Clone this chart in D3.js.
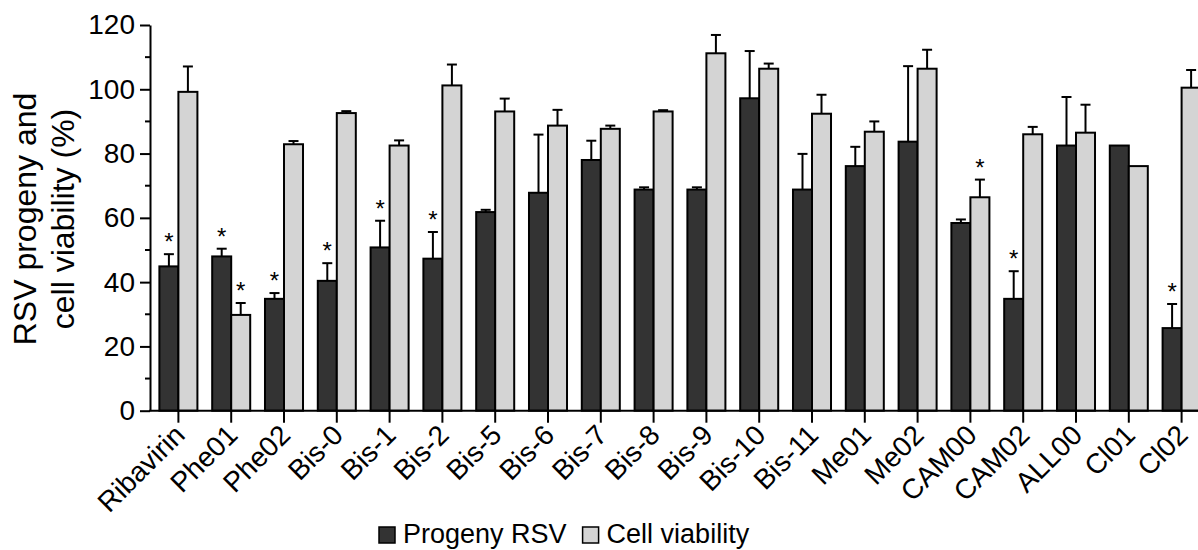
<!DOCTYPE html>
<html>
<head>
<meta charset="utf-8">
<script src="https://cdn.jsdelivr.net/npm/d3@7"></script>
<style>
  body { margin: 0; background: #fff; }
  text { font-family: "Liberation Sans", Arial, sans-serif; fill: #000; }
</style>
</head>
<body>
<svg id="chart" width="1198" height="550"></svg>
<script>
// compounds on the x axis
const compounds = ["Ribavirin", "Phe01", "Phe02", "Bis-0", "Bis-1", "Bis-2", "Bis-5", "Bis-6", "Bis-7", "Bis-8",
  "Bis-9", "Bis-10", "Bis-11", "Me01", "Me02", "CAM00", "CAM02", "ALL00", "Cl01", "Cl02"];

// progeny RSV (%) and its error bars
const progeny = [44.9, 48.0, 34.8, 40.4, 50.8, 47.3, 61.8, 67.8, 78.0, 68.8,
  68.8, 97.2, 68.8, 76.1, 83.7, 58.4, 34.8, 82.5, 82.5, 25.7];
const progenyErr = [3.8, 2.4, 1.8, 5.5, 8.3, 8.3, 0.7, 18.1, 6.0, 0.7,
  0.7, 14.7, 11.1, 6.0, 23.5, 1.1, 8.6, 15.1, 0, 7.5];

// cell viability (%) and its error bars
const viability = [99.2, 29.8, 82.9, 92.6, 82.5, 101.2, 93.1, 88.7, 87.7, 93.1,
  111.2, 106.4, 92.4, 86.8, 106.4, 66.4, 86.0, 86.5, 76.1, 100.5];
const viabilityErr = [7.9, 3.7, 1.0, 0.6, 1.6, 6.5, 4.0, 4.9, 1.0, 0.4,
  5.7, 1.6, 5.9, 3.2, 5.9, 5.5, 2.3, 8.7, 0, 5.5];

// significance stars
const progenySig = ["Ribavirin", "Phe01", "Phe02", "Bis-0", "Bis-1", "Bis-2", "CAM02", "Cl02"];
const viabilitySig = ["Phe01", "CAM00"];

const yTicks = [0, 20, 40, 60, 80, 100, 120];
const yMinor = [10, 30, 50, 70, 90, 110];

const series = [
  { key: "progeny", label: "Progeny RSV", values: progeny, err: progenyErr, sig: progenySig, fill: "#333333" },
  { key: "viability", label: "Cell viability", values: viability, err: viabilityErr, sig: viabilitySig, fill: "#d4d4d4" }
];

const svg = d3.select("#chart");

const x = d3.scaleBand()
  .domain(compounds)
  .range([152, 1208])
  .paddingInner(0.28)
  .paddingOuter(0.14);

const xs = d3.scaleBand()
  .domain(series.map(s => s.key))
  .range([0, x.bandwidth()]);

const y = d3.scaleLinear().domain([0, 120]).range([410.7, 25]);

//bars, error bars and stars for each series
series.forEach(s => {
  const rows = compounds.map((c, i) => ({ c, v: s.values[i], e: s.err[i], sig: s.sig.includes(c) }));
  const g = svg.append("g");
  const bx = d => x(d.c) + xs(s.key);
  const bw = xs.bandwidth();

  g.selectAll("line.err")
    .data(rows.filter(d => d.e > 0))
    .join("line")
    .attr("x1", d => bx(d) + bw / 2)
    .attr("x2", d => bx(d) + bw / 2)
    .attr("y1", d => y(d.v))
    .attr("y2", d => y(d.v + d.e))
    .attr("stroke", "#000")
    .attr("stroke-width", 2);

  g.selectAll("line.cap")
    .data(rows.filter(d => d.e > 0))
    .join("line")
    .attr("x1", d => bx(d) + bw / 2 - 5)
    .attr("x2", d => bx(d) + bw / 2 + 5)
    .attr("y1", d => y(d.v + d.e))
    .attr("y2", d => y(d.v + d.e))
    .attr("stroke", "#000")
    .attr("stroke-width", 2);

  g.selectAll("rect")
    .data(rows)
    .join("rect")
    .attr("x", bx)
    .attr("y", d => y(d.v))
    .attr("width", bw)
    .attr("height", d => y(0) - y(d.v))
    .attr("fill", s.fill)
    .attr("stroke", "#000")
    .attr("stroke-width", 2);

  g.selectAll("text")
    .data(rows.filter(d => d.sig))
    .join("text")
    .attr("x", d => bx(d) + bw / 2)
    .attr("y", d => y(d.v + d.e) - 4)
    .attr("text-anchor", "middle")
    .attr("font-size", 24)
    .text("*");
});

// y axis
const yAxis = svg.append("g").attr("transform", "translate(150,0)");
yAxis.call(d3.axisLeft(y).tickValues(yTicks).tickSize(10).tickPadding(5).tickSizeOuter(0));
yAxis.selectAll(".tick line").attr("stroke-width", 2);
yAxis.selectAll(".tick text").attr("font-size", 28).attr("font-family", "Liberation Sans, Arial, sans-serif");
yAxis.select(".domain").attr("stroke-width", 2);
yAxis.selectAll("line.minor")
  .data(yMinor)
  .join("line")
  .attr("class", "minor")
  .attr("x1", -5).attr("x2", 0)
  .attr("y1", d => y(d)).attr("y2", d => y(d))
  .attr("stroke", "#000").attr("stroke-width", 2);

// x axis
const xAxis = svg.append("g").attr("transform", `translate(0,${y(0)})`);
xAxis.call(d3.axisBottom(x).tickSize(12).tickSizeOuter(0));
xAxis.select(".domain").attr("d", `M149,0H1198`).attr("stroke-width", 2);
xAxis.selectAll(".tick line").attr("stroke-width", 2);
xAxis.selectAll(".tick text")
  .attr("font-size", 28)
  .attr("font-family", "Liberation Sans, Arial, sans-serif")
  .attr("text-anchor", "end")
  .attr("dy", null)
  .attr("y", 0)
  .attr("transform", "translate(8,26) rotate(-45)");

// y axis title
svg.append("text")
  .attr("transform", "translate(36,219) rotate(-90)")
  .attr("text-anchor", "middle")
  .attr("font-size", 32)
  .text("RSV progeny and");
svg.append("text")
  .attr("transform", "translate(74,219) rotate(-90)")
  .attr("text-anchor", "middle")
  .attr("font-size", 32)
  .text("cell viability (%)");

// legend
const legend = svg.append("g").attr("transform", "translate(379,527)");
let lx = 0;
series.forEach(s => {
  const item = legend.append("g").attr("transform", `translate(${lx},0)`);
  item.append("rect").attr("width", 16).attr("height", 16)
    .attr("fill", s.fill).attr("stroke", "#000").attr("stroke-width", 1.5);
  const t = item.append("text").attr("x", 24).attr("y", 16).attr("font-size", 27).text(s.label);
  lx += 24 + t.node().getComputedTextLength() + 16;
});
</script>
</body>
</html>
